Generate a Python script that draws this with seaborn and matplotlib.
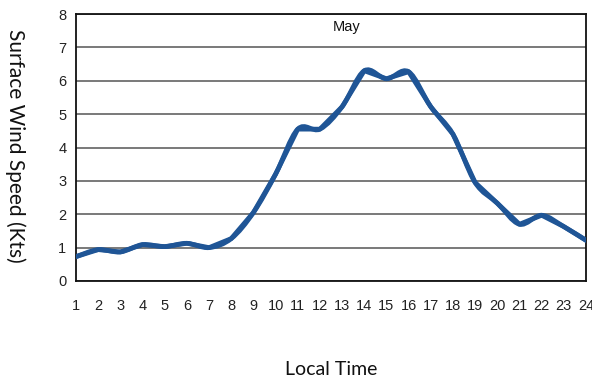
import numpy as np
import pandas as pd
import matplotlib
matplotlib.use("Agg")
import matplotlib.pyplot as plt
from matplotlib.path import Path
from matplotlib.patches import PathPatch
import seaborn as sns

hours = list(range(1, 25))
wind_speed = [0.73, 0.94, 0.87, 1.09, 1.03, 1.13, 1.0, 1.27, 2.05, 3.2,
              4.55, 4.55, 5.22, 6.3, 6.06, 6.27, 5.22, 4.4, 2.95, 2.33,
              1.7, 1.97, 1.63, 1.22]
y_ticks = list(range(0, 9))
month_label = "May"
x_title = "Local Time"
y_title = "Surface Wind Speed (Kts)"

df = pd.DataFrame({"hour": hours, "speed": wind_speed})

sns.set_style("white")
plt.rcParams["font.family"] = ["Liberation Sans", "DejaVu Sans"]

fig = plt.figure(figsize=(5.92, 3.83), dpi=100)
ax = fig.add_axes([76/592, 1-281/383, (586-76)/592, (281-14)/383])

line_color = "#1f5596"
sns.lineplot(data=df, x="hour", y="speed", ax=ax, color=line_color,
             linewidth=3.4, solid_joinstyle="round", solid_capstyle="round",
             zorder=3)

# smoothed rendering of the same series (Excel-style smoothed line),
# built as cubic Bezier segments through the data points
xs = np.asarray(hours, dtype=float)
ys = np.asarray(wind_speed, dtype=float)
verts = [(xs[0], ys[0])]
codes = [Path.MOVETO]
n = len(xs)
for i in range(n - 1):
    p0 = (xs[max(i - 1, 0)], ys[max(i - 1, 0)])
    p1 = (xs[i], ys[i])
    p2 = (xs[i + 1], ys[i + 1])
    p3 = (xs[min(i + 2, n - 1)], ys[min(i + 2, n - 1)])
    c1 = (p1[0] + (p2[0] - p0[0]) / 6, p1[1] + (p2[1] - p0[1]) / 6)
    c2 = (p2[0] - (p3[0] - p1[0]) / 6, p2[1] - (p3[1] - p1[1]) / 6)
    verts += [c1, c2, p2]
    codes += [Path.CURVE4] * 3
ax.add_patch(PathPatch(Path(verts, codes), facecolor="none", edgecolor=line_color,
                       linewidth=3.4, capstyle="round", joinstyle="round",
                       zorder=4))

ax.set_xlim(1, 24)
ax.set_ylim(0, 8)
ax.set_xticks(hours)
ax.set_yticks(y_ticks)
ax.tick_params(axis="both", labelsize=10.5, colors="#222222", direction="out")
ax.tick_params(axis="x", length=7, width=1.2, color="#555555", pad=6)
ax.tick_params(axis="y", length=4, width=1.2, color="#555555", pad=3)
ax.yaxis.grid(True, color="#555555", linewidth=1.1)
ax.set_axisbelow(True)
for s in ax.spines.values():
    s.set_visible(True)
    s.set_color("#111111")
    s.set_linewidth(1.3)

ax.set_xlabel(x_title, fontsize=14, family=["Lato", "DejaVu Sans"], color="#111111",
              va="center")
ax.xaxis.set_label_coords(0.5, -0.333)
ax.set_ylabel(y_title, fontsize=15, family=["Lato", "DejaVu Sans"], rotation=-90,
              color="#111111", va="center")
ax.yaxis.set_label_coords(-0.119, 0.506)
ax.text(0.531, 0.951, month_label, fontsize=10.5, ha="center", va="center",
        transform=ax.transAxes, color="#111111")

fig.savefig("out.png", dpi=100)
